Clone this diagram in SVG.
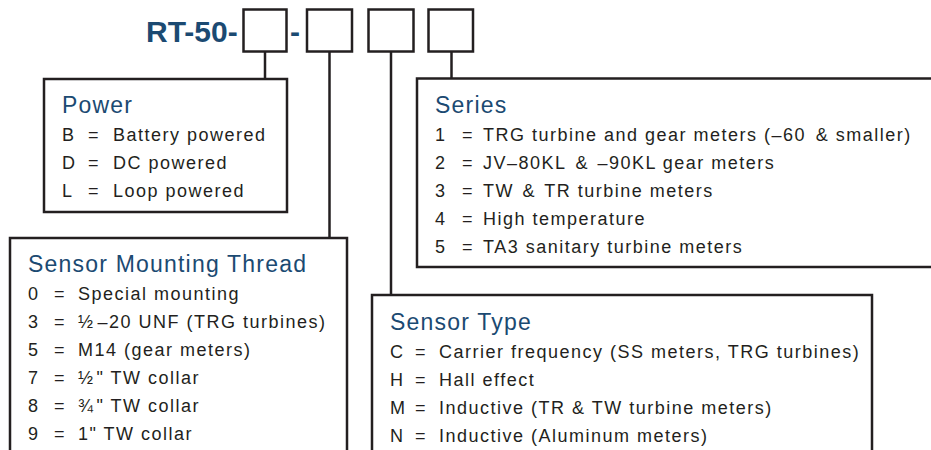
<svg xmlns="http://www.w3.org/2000/svg" width="931" height="450" viewBox="0 0 931 450">
<style>
.bx{fill:#fff;stroke:#231f20;stroke-width:2.5}
.cn{fill:none;stroke:#231f20;stroke-width:2.5}
.hd{font-family:"Liberation Sans",Arial,sans-serif;font-weight:bold;font-size:30px;fill:#1b4a72}
.tt{font-family:"Liberation Sans",Arial,sans-serif;font-size:23px;letter-spacing:1.2px;fill:#1b4a72}
.it{font-family:"Liberation Sans",Arial,sans-serif;font-size:18px;letter-spacing:1.5px;fill:#231f20}
</style>
<rect width="931" height="450" fill="#fff"/>
<g id="connectors">
<line class="cn" x1="265" y1="52" x2="265" y2="79"/>
<line class="cn" x1="329.5" y1="52" x2="329.5" y2="238"/>
<line class="cn" x1="391" y1="52" x2="391" y2="295"/>
<line class="cn" x1="451.5" y1="52" x2="451.5" y2="78"/>
</g>
<g id="code">
<text class="hd" x="146" y="42">RT-50-</text>
<text class="hd" x="290" y="42">-</text>
<rect class="bx" x="243.5" y="9.5" width="43" height="42"/>
<rect class="bx" x="307" y="9.5" width="45" height="42"/>
<rect class="bx" x="368.5" y="9.5" width="45" height="42"/>
<rect class="bx" x="428.5" y="9.5" width="44.5" height="42"/>
</g>
<g id="power">
<rect class="bx" x="44" y="79" width="243" height="133"/>
<text class="tt" x="62" y="113">Power</text>
<text class="it" x="62" y="141">B</text><text class="it" x="88" y="141">=</text><text class="it" x="113" y="141">Battery powered</text>
<text class="it" x="62" y="169">D</text><text class="it" x="88" y="169">=</text><text class="it" x="113" y="169">DC powered</text>
<text class="it" x="62" y="197">L</text><text class="it" x="88" y="197">=</text><text class="it" x="113" y="197">Loop powered</text>
</g>
<g id="series">
<rect class="bx" x="417" y="78.5" width="530" height="188.5"/>
<text class="tt" x="435" y="113">Series</text>
<text class="it" x="435" y="141">1</text><text class="it" x="462" y="141">=</text><text class="it" x="483" y="141">TRG turbine and gear meters (–60 <tspan dx="3">&amp; smaller)</tspan></text>
<text class="it" x="435" y="169">2</text><text class="it" x="462" y="169">=</text><text class="it" x="483" y="169">JV–80KL <tspan dx="3">&amp; </tspan><tspan dx="2">–90KL gear meters</tspan></text>
<text class="it" x="435" y="197">3</text><text class="it" x="462" y="197">=</text><text class="it" x="483" y="197">TW <tspan dx="2">&amp; </tspan><tspan dx="2">TR turbine meters</tspan></text>
<text class="it" x="435" y="225">4</text><text class="it" x="462" y="225">=</text><text class="it" x="483" y="225">High temperature</text>
<text class="it" x="435" y="253">5</text><text class="it" x="462" y="253">=</text><text class="it" x="483" y="253">TA3 sanitary turbine meters</text>
</g>
<g id="mounting">
<rect class="bx" x="10" y="238" width="337" height="240"/>
<text class="tt" x="28" y="272">Sensor Mounting Thread</text>
<text class="it" x="28" y="300">0</text><text class="it" x="54" y="300">=</text><text class="it" x="78" y="300">Special mounting</text>
<text class="it" x="28" y="328">3</text><text class="it" x="54" y="328">=</text><text class="it" x="78" y="328">½<tspan dx="3">–20 UNF (TRG turbines)</tspan></text>
<text class="it" x="28" y="356">5</text><text class="it" x="54" y="356">=</text><text class="it" x="78" y="356">M14 (gear meters)</text>
<text class="it" x="28" y="384">7</text><text class="it" x="54" y="384">=</text><text class="it" x="78" y="384">½<tspan dx="2">" TW collar</tspan></text>
<text class="it" x="28" y="412">8</text><text class="it" x="54" y="412">=</text><text class="it" x="78" y="412">¾<tspan dx="2">" TW collar</tspan></text>
<text class="it" x="28" y="440">9</text><text class="it" x="54" y="440">=</text><text class="it" x="78" y="440">1" TW collar</text>
</g>
<g id="sensortype">
<rect class="bx" x="372" y="295" width="500" height="200"/>
<text class="tt" x="390" y="330">Sensor Type</text>
<text class="it" x="390" y="358">C</text><text class="it" x="415" y="358">=</text><text class="it" x="439" y="358">Carrier frequency (SS meters, TRG turbines)</text>
<text class="it" x="390" y="386">H</text><text class="it" x="415" y="386">=</text><text class="it" x="439" y="386">Hall effect</text>
<text class="it" x="390" y="414">M</text><text class="it" x="415" y="414">=</text><text class="it" x="439" y="414">Inductive (TR &amp; TW turbine meters)</text>
<text class="it" x="390" y="442">N</text><text class="it" x="415" y="442">=</text><text class="it" x="439" y="442">Inductive (Aluminum meters)</text>
</g>
</svg>
